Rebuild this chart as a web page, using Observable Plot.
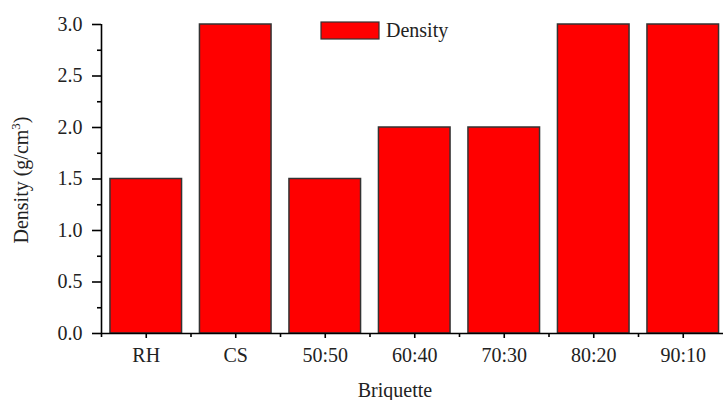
<!DOCTYPE html>
<html>
<head>
<meta charset="utf-8">
<script src="https://cdn.jsdelivr.net/npm/d3@7"></script>
<script src="https://cdn.jsdelivr.net/npm/@observablehq/plot@0.6"></script>
<style>
  html, body { margin: 0; padding: 0; background: #fff; overflow: hidden; }
  #chart { position: relative; width: 723px; height: 400px; }
</style>
</head>
<body>
<div id="chart"></div>
<script>
const categories = ["RH", "CS", "50:50", "60:40", "70:30", "80:20", "90:10"];
const density = [1.5, 3.0, 1.5, 2.0, 2.0, 3.0, 3.0];
const yTicks = [0, 0.5, 1.0, 1.5, 2.0, 2.5, 3.0];
const yMinorTicks = [0.25, 0.75, 1.25, 1.75, 2.25, 2.75];
const seriesName = "Density";
const xTitle = "Briquette";

const data = categories.map((c, i) => ({i, c, v: density[i]}));
const xTicks = categories.map((c, i) => i);
const xMinorTicks = [-0.5, ...categories.map((c, i) => i + 0.5)];
const xDomain = [-0.5, categories.length - 0.5];

const FONT = "'Liberation Serif', 'Times New Roman', Times, serif";

const svg = Plot.plot({
  width: 723,
  height: 400,
  marginLeft: 101,
  marginRight: 0,
  marginTop: 24,
  marginBottom: 67,
  x: {type: "linear", domain: xDomain, range: [101, 727.5]},
  y: {domain: [0, 3], range: [333, 24]},
  style: {fontFamily: FONT, fontSize: "20px", color: "#000", background: "#fff"},
  marks: [
    Plot.rectY(data, {x1: d => d.i - 0.4, x2: d => d.i + 0.4, y1: 0, y2: "v", fill: "#ff0000", stroke: "#333", strokeWidth: 1.5}),
    Plot.ruleY([0], {stroke: "#000", strokeWidth: 1.6}),
    Plot.ruleX([xDomain[0]], {y1: 0, y2: 3, stroke: "#000", strokeWidth: 1.6}),
    Plot.axisY({ticks: yTicks, tickSize: 9, tickPadding: 10, tickFormat: d3.format(".1f"), label: null, strokeWidth: 1.6, fill: "#222"}),
    Plot.axisY({ticks: yMinorTicks, tickSize: 4, tickFormat: () => "", label: null, strokeWidth: 1.6}),
    Plot.axisX({ticks: xTicks, tickSize: 5, tickPadding: 9, tickFormat: i => categories[i], label: null, strokeWidth: 1.6, fill: "#222"}),
    Plot.axisX({ticks: xMinorTicks, tickSize: 4, tickFormat: () => "", label: null, strokeWidth: 1.6})
  ]
});

document.getElementById("chart").appendChild(svg);

const s = d3.select(svg);
// Y axis title with superscript
const yt = s.append("text")
  .attr("transform", "translate(28,180) rotate(-90)")
  .attr("text-anchor", "middle")
  .attr("font-family", FONT)
  .attr("font-size", 20)
  .attr("fill", "#222");
yt.append("tspan").text("Density (g/cm");
yt.append("tspan").attr("font-size", 13).attr("dy", -8).text("3");
yt.append("tspan").attr("dy", 8).text(")");

// X axis title
s.append("text")
  .attr("x", 395).attr("y", 397)
  .attr("text-anchor", "middle")
  .attr("font-family", FONT)
  .attr("font-size", 20)
  .attr("fill", "#222")
  .text(xTitle);

// Legend
s.append("rect")
  .attr("x", 321).attr("y", 22).attr("width", 58).attr("height", 17)
  .attr("fill", "#ff0000").attr("stroke", "#333").attr("stroke-width", 1.2);
s.append("text")
  .attr("x", 386).attr("y", 37)
  .attr("text-anchor", "start")
  .attr("font-family", FONT)
  .attr("font-size", 20)
  .attr("fill", "#222")
  .text(seriesName);
</script>
</body>
</html>
